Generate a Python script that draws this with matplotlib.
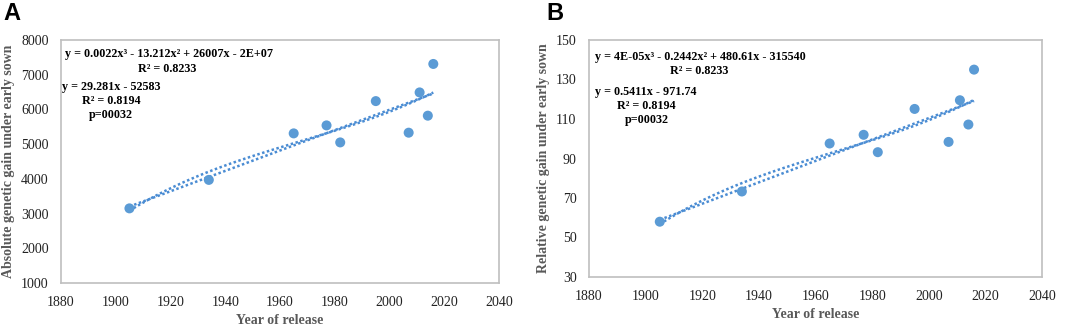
import numpy as np
import matplotlib
matplotlib.use("Agg")
import matplotlib.pyplot as plt
from numpy.polynomial import Polynomial

# release year of each variety
years = [1905, 1934, 1965, 1977, 1982, 1995, 2007, 2011, 2014, 2016]
# panel A: absolute genetic gain
abs_gain = [3150, 3970, 5310, 5540, 5050, 6240, 5330, 6490, 5820, 7310]
# panel B: relative genetic gain
rel_gain = [58.0, 73.3, 97.6, 102.0, 93.2, 115.1, 98.4, 119.5, 107.2, 135.0]

x_ticks = [1880, 1900, 1920, 1940, 1960, 1980, 2000, 2020, 2040]
a_yticks = [1000, 2000, 3000, 4000, 5000, 6000, 7000, 8000]
b_yticks = [30, 50, 70, 90, 110, 130, 150]

a_eq = ["y = 0.0022x³ - 13.212x² + 26007x - 2E+07", "R² = 0.8233",
        "y = 29.281x - 52583", "R² = 0.8194", "p=00032"]
b_eq = ["y = 4E-05x³ - 0.2442x² + 480.61x - 315540", "R² = 0.8233",
        "y = 0.5411x - 971.74", "R² = 0.8194", "p=00032"]

W, H = 1084, 329
PT_COLOR = "#5B9BD5"
LINE_COLOR = "#4A8CD3"
SERIF = ["Liberation Serif", "DejaVu Serif"]


def px(x, y):
    return x / W, 1 - y / H


def panel(rect_px, yvals, yticks, ylabel, eq_lines, eq_pos, letter_pos, letter):
    l, t, r, b = rect_px
    ax = fig.add_axes([l / W, 1 - b / H, (r - l) / W, (b - t) / H])
    ax.scatter(years, yvals, s=52, color=PT_COLOR, zorder=5, edgecolors="none")

    xs = np.linspace(min(years), max(years), 200)
    lin = Polynomial.fit(years, yvals, 1)
    cub = Polynomial.fit(years, yvals, 3)
    ax.plot(xs, lin(xs), ls=(0, (1, 1)), lw=1.8, color=LINE_COLOR)
    ax.plot(xs, cub(xs), ls=(0, (1, 1)), lw=1.8, color=LINE_COLOR)

    ax.set_xlim(x_ticks[0], x_ticks[-1])
    ax.set_ylim(yticks[0], yticks[-1])
    ax.set_xticks(x_ticks)
    ax.set_yticks(yticks)
    ax.tick_params(length=0, labelsize=10, colors="#222222", pad=9)
    for lab in ax.get_xticklabels() + ax.get_yticklabels():
        lab.set_family(SERIF)
    for s in ax.spines.values():
        s.set_color("#BFBFBF")
        s.set_linewidth(1.2)
    ax.set_xlabel("Year of release", family=SERIF, fontweight="bold",
                  fontsize=10, color="#595959", labelpad=4)
    ax.set_ylabel(ylabel, family=SERIF, fontweight="bold",
                  fontsize=10, color="#595959", labelpad=4)

    for txt, (tx, ty) in zip(eq_lines, eq_pos):
        fig.text(*px(tx, ty), txt, family=SERIF, fontweight="bold",
                 fontsize=8.7, ha="left", va="center", color="black")
    fig.text(*px(*letter_pos), letter, fontsize=17, fontweight="bold",
             family=["Liberation Sans", "DejaVu Sans"], ha="left", va="center")
    return ax


fig = plt.figure(figsize=(W / 100, H / 100), dpi=100)

panel((61, 40, 499, 283), abs_gain, a_yticks,
      "Absolute genetic gain under early sown", a_eq,
      [(65, 54), (138, 69), (62, 87), (82, 101), (89, 115)], (3, 13), "A")

panel((589, 40, 1042, 277), rel_gain, b_yticks,
      "Relative genetic gain under early sown", b_eq,
      [(595, 57), (670, 71), (595, 92), (617, 106), (625, 120)], (546, 13), "B")

fig.savefig("out.png", dpi=100)
